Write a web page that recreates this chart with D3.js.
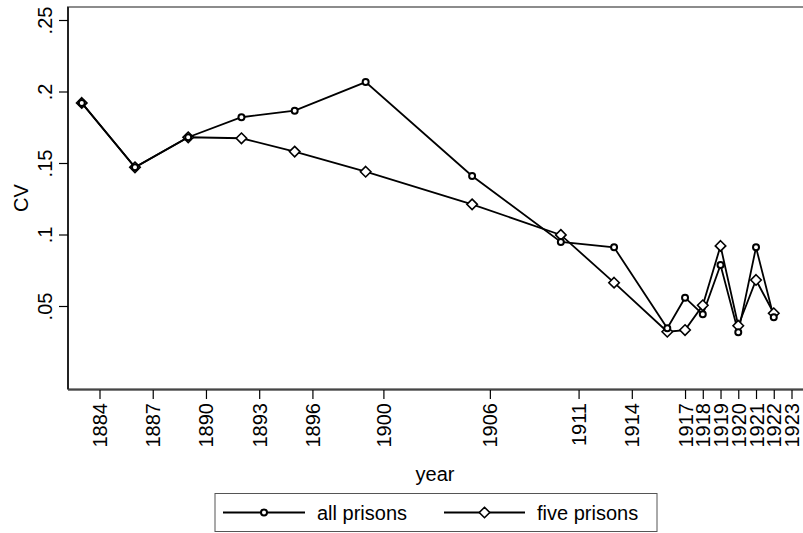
<!DOCTYPE html>
<html>
<head>
    <meta charset="UTF-8">
    <title>CV by year</title>
    <script src="https://d3js.org/d3.v7.min.js"></script>
    <style type="text/css">
        body { margin: 0; background: white; }
        text { font-family: "Liberation Sans", Arial, sans-serif; fill: black; }
    </style>
</head>
<body>
    <svg id="chart"></svg>

    <script>
        const width = 803;
        const height = 533;

        // data
        const years = [1883, 1886, 1889, 1892, 1895, 1899, 1905, 1910, 1913, 1916, 1917, 1918, 1919, 1920, 1921, 1922];
        const allPrisons = [0.192, 0.147, 0.168, 0.182, 0.1866, 0.2066, 0.1409, 0.0948, 0.091, 0.0344, 0.0558, 0.0442, 0.0787, 0.0316, 0.091, 0.0421];
        const fivePrisons = [0.192, 0.147, 0.168, 0.1673, 0.158, 0.1439, 0.1211, 0.0997, 0.0663, 0.032, 0.0332, 0.0505, 0.092, 0.0362, 0.0682, 0.0449];
        const xTicks = [1884, 1887, 1890, 1893, 1896, 1900, 1906, 1911, 1914, 1917, 1918, 1919, 1920, 1921, 1922, 1923];
        const yTicks = [0.05, 0.1, 0.15, 0.2, 0.25];
        const yTickLabels = [".05", ".1", ".15", ".2", ".25"];
        const seriesNames = ["all prisons", "five prisons"];

        const plot = { left: 68, right: 812, top: 7, bottom: 389 };

        const svg = d3.select("#chart")
            .attr("width", width)
            .attr("height", height);

        svg.append("rect")
            .attr("width", width).attr("height", height)
            .style("fill", "white");

        const x = d3.scaleLinear().domain([1884, 1923]).range([99.5, 791.5]);
        const y = d3.scaleLinear().domain([0.05, 0.25]).range([306, 20]);

        // plot region outline (grey, as in stata)
        svg.append("rect")
            .attr("x", plot.left).attr("y", plot.top)
            .attr("width", plot.right - plot.left)
            .attr("height", plot.bottom - plot.top)
            .style("fill", "none")
            .style("stroke", "#8c8c8c")
            .style("stroke-width", 2);

        // y axis
        const yAxis = d3.axisLeft(y)
            .tickValues(yTicks)
            .tickSize(9)
            .tickFormat((d, i) => yTickLabels[i]);
        const gy = svg.append("g")
            .attr("transform", `translate(${plot.left},0)`)
            .call(yAxis);
        gy.select(".domain").remove();
        gy.append("line")
            .attr("x1", 0).attr("x2", 0)
            .attr("y1", plot.top).attr("y2", plot.bottom)
            .style("stroke", "black").style("stroke-width", 1.5);
        gy.selectAll(".tick line").style("stroke", "black").style("stroke-width", 1.2);
        gy.selectAll(".tick text")
            .style("font-size", "20px")
            .attr("x", null).attr("dy", null)
            .attr("text-anchor", "middle")
            .attr("transform", "translate(-16,0) rotate(-90)");

        // x axis
        const xAxis = d3.axisBottom(x)
            .tickValues(xTicks)
            .tickSize(9)
            .tickFormat(d3.format("d"));
        const gx = svg.append("g")
            .attr("transform", `translate(0,${plot.bottom + 1})`)
            .call(xAxis);
        gx.select(".domain").remove();
        gx.append("line")
            .attr("x1", plot.left).attr("x2", plot.right)
            .attr("y1", 0).attr("y2", 0)
            .style("stroke", "black").style("stroke-width", 1.2);
        gx.selectAll(".tick line").style("stroke", "black").style("stroke-width", 1.2);
        gx.selectAll(".tick text")
            .style("font-size", "20px")
            .attr("y", null).attr("dy", "0.35em")
            .attr("text-anchor", "end")
            .attr("transform", "translate(0,13) rotate(-90)");

        // axis titles
        svg.append("text")
            .attr("transform", `translate(27.5,${(plot.top + plot.bottom) / 2}) rotate(-90)`)
            .attr("text-anchor", "middle")
            .style("font-size", "20px")
            .text("CV");
        svg.append("text")
            .attr("x", 435).attr("y", 481)
            .attr("text-anchor", "middle")
            .style("font-size", "20px")
            .text("year");

        // series
        const line = d3.line().x(d => x(d[0])).y(d => y(d[1]));
        const allData = years.map((yr, i) => [yr, allPrisons[i]]);
        const fiveData = years.map((yr, i) => [yr, fivePrisons[i]]);
        const diamond = d3.symbol().type(d3.symbolDiamond2).size(70);

        svg.append("path").datum(allData)
            .attr("d", line)
            .style("fill", "none").style("stroke", "black").style("stroke-width", 1.8);
        svg.append("path").datum(fiveData)
            .attr("d", line)
            .style("fill", "none").style("stroke", "black").style("stroke-width", 1.8);

        svg.selectAll(".fiveMark").data(fiveData).enter()
            .append("path")
            .attr("class", "fiveMark")
            .attr("d", diamond)
            .attr("transform", d => `translate(${x(d[0])},${y(d[1])})`)
            .style("fill", "white").style("stroke", "black").style("stroke-width", 1.6);

        svg.selectAll(".allMark").data(allData).enter()
            .append("circle")
            .attr("class", "allMark")
            .attr("cx", d => x(d[0]))
            .attr("cy", d => y(d[1]))
            .attr("r", 3)
            .style("fill", "white").style("stroke", "black").style("stroke-width", 2);

        // legend
        const legend = svg.append("g");
        legend.append("rect")
            .attr("x", 215).attr("y", 493.5)
            .attr("width", 442).attr("height", 38)
            .style("fill", "white").style("stroke", "#555").style("stroke-width", 1);

        const keys = [
            { x1: 223, x2: 305, tx: 317 },
            { x1: 444, x2: 525, tx: 537 }
        ];
        keys.forEach((k, i) => {
            const ky = 512.5;
            legend.append("line")
                .attr("x1", k.x1).attr("x2", k.x2)
                .attr("y1", ky).attr("y2", ky)
                .style("stroke", "black").style("stroke-width", 1.8);
            const mx = (k.x1 + k.x2) / 2;
            if (i === 0) {
                legend.append("circle")
                    .attr("cx", mx).attr("cy", ky).attr("r", 3)
                    .style("fill", "white").style("stroke", "black").style("stroke-width", 2);
            } else {
                legend.append("path")
                    .attr("d", diamond)
                    .attr("transform", `translate(${mx},${ky})`)
                    .style("fill", "white").style("stroke", "black").style("stroke-width", 1.6);
            }
            legend.append("text")
                .attr("x", k.tx).attr("y", ky + 7)
                .style("font-size", "20px")
                .text(seriesNames[i]);
        });
    </script>
</body>
</html>
